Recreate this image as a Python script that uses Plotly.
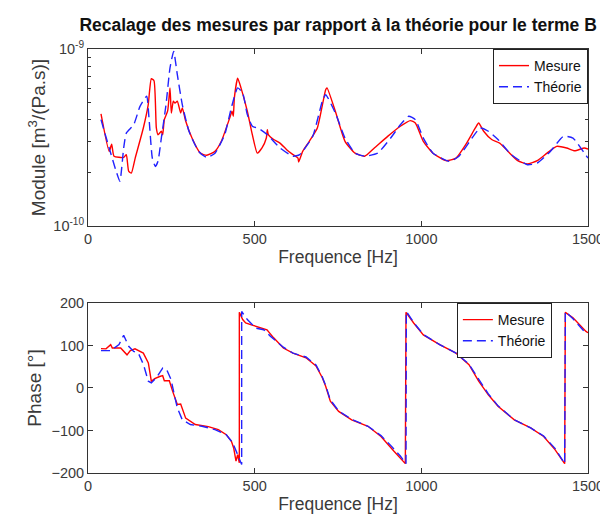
import plotly.graph_objects as go

# ---------------- data ----------------
freq_mes_mod = [39, 63.5, 71, 78, 107, 115, 122, 130, 141.6, 166, 180.6, 190, 198, 205, 210, 220, 224, 229,
                239, 246, 250, 256, 261, 268, 278, 283, 293, 312, 337, 356, 381, 400, 425, 432, 436, 439,
                449, 459, 478, 493, 508, 522, 535, 538, 541, 557, 576, 596, 615, 630, 632, 644, 664, 688,
                713, 717, 742, 771, 801, 830, 859, 899, 937, 967, 982, 1006, 1035, 1074, 1104, 1133, 1162,
                1172, 1187, 1211, 1235, 1260, 1289, 1318, 1348, 1377, 1406, 1436, 1460, 1489, 1500]
module_mes = [4.30, 2.64, 2.90, 2.48, 2.44, 2.53, 2.04, 1.99, 2.42, 3.58, 4.84, 6.79, 6.62, 3.58, 3.28, 3.43,
              3.28, 3.99, 4.47, 6.03, 4.35, 5.07, 4.95, 5.07, 4.35, 4.65, 3.92, 3.14, 2.58, 2.51, 2.64, 3.01,
              4.07, 4.45, 4.17, 5.28, 6.85, 6.03, 4.45, 3.28, 2.58, 2.76, 3.14, 3.50, 3.28, 3.08, 2.94, 2.70,
              2.53, 2.42, 2.30, 2.64, 3.01, 3.58, 5.89, 6.03, 4.45, 3.01, 2.58, 2.48, 2.76, 3.21, 3.66, 3.94,
              3.82, 3.01, 2.58, 2.34, 2.42, 2.88, 3.58, 3.82, 3.43, 3.08, 2.94, 2.64, 2.34, 2.24, 2.34, 2.58,
              2.82, 2.76, 2.66, 2.76, 2.72]  # x 1e-10

freq_the_mod = [39, 63.5, 83, 95.6, 107, 115, 137, 156, 176, 183, 193, 202, 210, 220, 234, 246, 257, 268, 283,
                303, 332, 356, 381, 410, 430, 449, 464, 478, 493, 513, 538, 576, 615, 635, 674, 703, 713, 742,
                771, 801, 830, 869, 908, 937, 962, 982, 1006, 1035, 1084, 1113, 1152, 1177, 1201, 1230, 1270,
                1318, 1348, 1387, 1426, 1455, 1489, 1500]
module_the = [3.99, 2.76, 2.08, 1.79, 2.76, 3.35, 3.73, 4.74, 5.41, 4.07, 2.42, 2.17, 2.32, 3.14, 4.84, 7.82,
              9.70, 7.16, 4.84, 3.43, 2.64, 2.44, 2.58, 3.28, 4.65, 6.03, 5.64, 4.26, 3.66, 3.55, 3.28, 2.76,
              2.48, 2.53, 3.21, 5.07, 5.52, 4.35, 3.14, 2.58, 2.48, 2.58, 3.14, 3.73, 4.17, 3.99, 3.14, 2.58,
              2.32, 2.48, 3.14, 3.58, 3.43, 3.08, 2.53, 2.22, 2.27, 2.64, 3.21, 3.14, 2.58, 2.42]  # x 1e-10

freq_mes_ph = [39, 54, 68, 73, 98, 117, 127, 141, 166, 181, 190, 200, 215, 224, 229, 244, 254, 268, 278, 293,
               322, 361, 391, 415, 430, 437, 444, 449, 454, 454, 464, 473, 488, 513, 537, 557, 586, 615, 654,
               684, 703, 713, 727, 752, 791, 840, 879, 918, 952, 954, 977, 1006, 1055, 1104, 1143, 1172, 1201,
               1230, 1279, 1328, 1367, 1401, 1430, 1432, 1455, 1494, 1500]
phase_mes = [92.5, 92, 102, 94, 94, 78, 88, 92, 82, 59, 16, 22, 27, 29, 17, 17, -8, -39, -38, -71,
             -86, -91, -98, -110, -125, -141, -172, -157, -176, 178, 161, 153, 149, 143, 137, 118, 94, 82, 71,
             52, 24, 4, -31, -55, -75, -90, -114, -149, -178, 178, 153, 125, 102, 82, 55, 16, -16,
             -43, -75, -94, -114, -145, -178, 178, 165, 133, 130]

freq_the_ph = [39, 68, 93, 107, 122, 137, 151, 166, 181, 190, 205, 224, 236, 249, 259, 268, 283, 307, 342, 381,
               415, 434, 449, 459, 461, 461, 478, 503, 527, 547, 586, 615, 654, 684, 703, 713, 727, 752, 791,
               840, 879, 908, 937, 954, 955, 977, 1006, 1055, 1104, 1143, 1172, 1191, 1201, 1230, 1279, 1328,
               1367, 1401, 1430, 1432, 1455, 1490]
phase_the = [88, 88, 102, 124, 98, 86, 82, 56, 16, 12, 24, 47, 43, 20, -16, -47, -75, -86, -90, -98,
             -110, -129, -157, -178, -180, 180, 161, 141, 137, 122, 96, 82, 73, 54, 26, 6, -28, -54, -74,
             -90, -112, -135, -160, -178, 180, 154, 126, 102, 82, 56, 22, 0, -14, -42, -75, -94,
             -113, -142, -178, 180, 163, 132]

x_ticks = [0, 500, 1000, 1500]
phase_ticks = [-200, -100, 0, 100, 200]
log_ticks = [1e-10, 1e-9]
log_ticktext = ["10<sup>-10</sup>", "10<sup>-9</sup>"]
log_minor = [k * 1e-10 for k in range(2, 10)]

SCALE = 1e-10
FONT = "Liberation Sans, Arial, Helvetica, sans-serif"
AX = "#333333"
RED = "#ff0000"
BLUE = "#2222ff"

fig = go.Figure()
fig.add_trace(go.Scatter(x=freq_mes_mod, y=[v * SCALE for v in module_mes], mode="lines", name="Mesure",
                         line=dict(color=RED, width=1.4, shape="spline", smoothing=0.5),
                         xaxis="x", yaxis="y", legend="legend"))
fig.add_trace(go.Scatter(x=freq_the_mod, y=[v * SCALE for v in module_the], mode="lines", name="Théorie",
                         line=dict(color=BLUE, width=1.4, dash="9px,5px", shape="spline", smoothing=0.5),
                         xaxis="x", yaxis="y", legend="legend"))
fig.add_trace(go.Scatter(x=freq_mes_ph, y=phase_mes, mode="lines", name="Mesure",
                         line=dict(color=RED, width=1.4), xaxis="x2", yaxis="y2", legend="legend2"))
fig.add_trace(go.Scatter(x=freq_the_ph, y=phase_the, mode="lines", name="Théorie",
                         line=dict(color=BLUE, width=1.4, dash="9px,5px"), xaxis="x2", yaxis="y2", legend="legend2"))

axis_common = dict(showline=True, linecolor=AX, linewidth=1, mirror="ticks", ticks="inside", ticklen=5,
                   tickcolor=AX, showgrid=False, zeroline=False, ticklabeloverflow="allow",
                   tickfont=dict(size=14.5, color="#3a3a3a", family=FONT))

top_dom = [0.5825, 1.0]
bot_dom = [0.0, 0.401]

fig.update_layout(
    width=608, height=522,
    margin=dict(l=80, r=16, t=41, b=57),
    paper_bgcolor="white", plot_bgcolor="white",
    font=dict(family=FONT, color=AX),
    title=dict(text="<b>Recalage des mesures par rapport à la théorie pour le terme B</b>",
               font=dict(size=17.5, color="#111111", family=FONT),
               x=0.543, xref="container", xanchor="center", y=1 - 17 / 522, yref="container", yanchor="middle"),
    xaxis=dict(axis_common, domain=[0, 1], anchor="y", range=[0, 1500], tickvals=x_ticks,
               title=dict(text="Frequence [Hz]", font=dict(size=17.5, color="#3a3a3a"), standoff=4)),
    yaxis=dict(axis_common, domain=top_dom, anchor="x", type="log", range=[-10, -9],
               tickvals=log_ticks, ticktext=log_ticktext,
               minor=dict(tickvals=log_minor, ticks="inside", ticklen=3, tickcolor=AX),
               title=dict(text="Module [m<sup>3</sup>/(Pa.s)]", font=dict(size=19, color="#3a3a3a"), standoff=2)),
    xaxis2=dict(axis_common, domain=[0, 1], anchor="y2", range=[0, 1500], tickvals=x_ticks,
                title=dict(text="Frequence [Hz]", font=dict(size=17.5, color="#3a3a3a"), standoff=4)),
    yaxis2=dict(axis_common, domain=bot_dom, anchor="x2", range=[-200, 200], tickvals=phase_ticks,
                title=dict(text="Phase [°]", font=dict(size=19, color="#3a3a3a"), standoff=4)),
    legend=dict(x=1.0, xanchor="right", y=1.0, yanchor="top", bgcolor="white", bordercolor="#222222",
                borderwidth=1, font=dict(size=14, color="#111111", family=FONT), tracegroupgap=0),
    legend2=dict(x=(555 - 80) / 512, xanchor="right", y=bot_dom[1], yanchor="top", bgcolor="white",
                 bordercolor="#222222", borderwidth=1, font=dict(size=14, color="#111111", family=FONT),
                 tracegroupgap=0),
    showlegend=True,
)

fig.write_html("out.html")
